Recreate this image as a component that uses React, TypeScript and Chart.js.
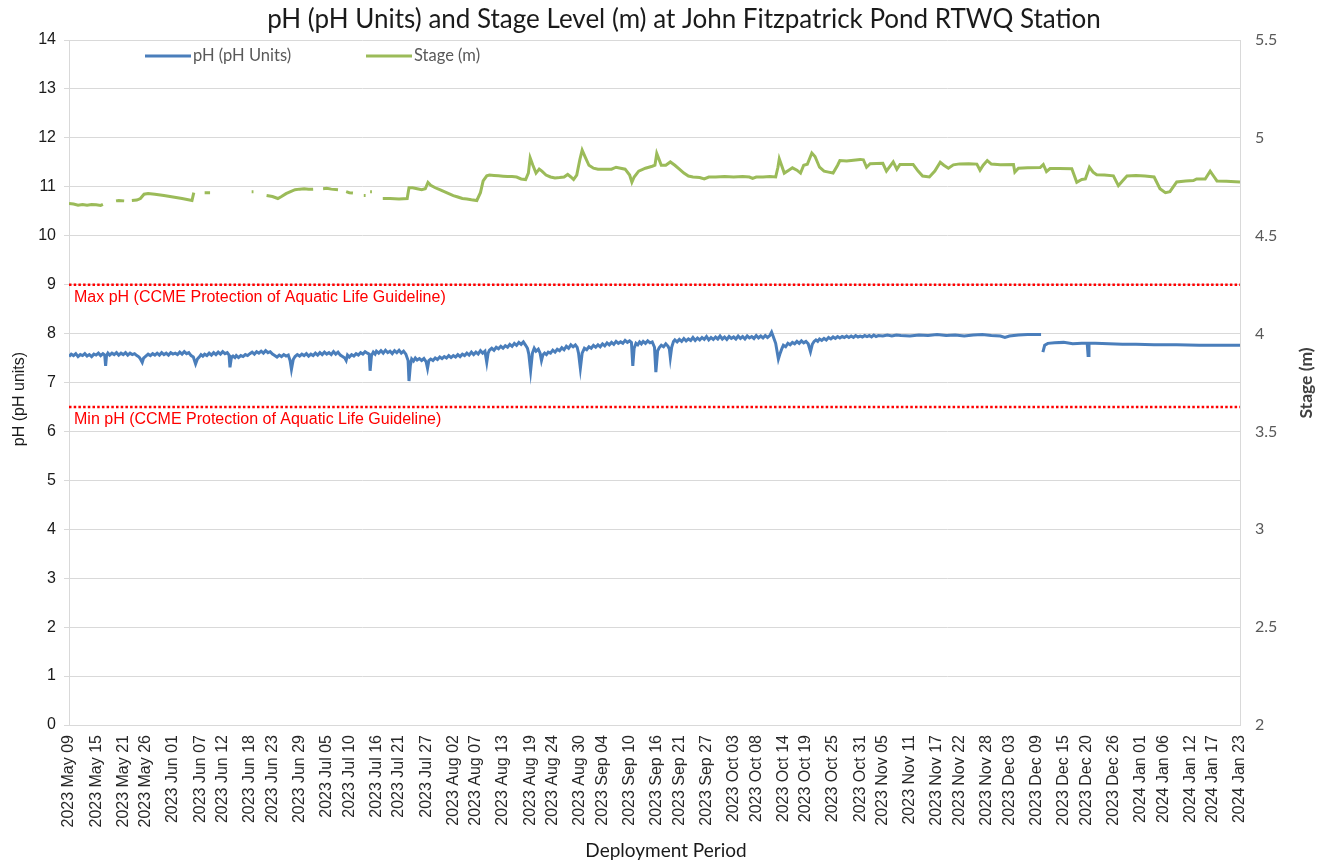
import React, { useEffect, useRef } from "react";
import { Chart, registerables } from "chart.js";

Chart.register(...registerables);

const chartTitle = "pH (pH Units) and Stage Level (m) at John Fitzpatrick Pond RTWQ Station";
const phLabel = "pH (pH Units)";
const stageLabel = "Stage (m)";
const leftAxisTitle = "pH (pH units)";
const rightAxisTitle = "Stage (m)";
const xAxisTitle = "Deployment Period";
const maxGuideLabel = "Max pH (CCME Protection of Aquatic Life Guideline)";
const minGuideLabel = "Min pH (CCME Protection of Aquatic Life Guideline)";
const maxPh = 9;
const minPh = 6.5;

const xTickLabels = [
  "2023 May 09", "2023 May 15", "2023 May 21", "2023 May 26", "2023 Jun 01", "2023 Jun 07",
  "2023 Jun 12", "2023 Jun 18", "2023 Jun 23", "2023 Jun 29", "2023 Jul 05", "2023 Jul 10",
  "2023 Jul 16", "2023 Jul 21", "2023 Jul 27", "2023 Aug 02", "2023 Aug 07", "2023 Aug 13",
  "2023 Aug 19", "2023 Aug 24", "2023 Aug 30", "2023 Sep 04", "2023 Sep 10", "2023 Sep 16",
  "2023 Sep 21", "2023 Sep 27", "2023 Oct 03", "2023 Oct 08", "2023 Oct 14", "2023 Oct 19",
  "2023 Oct 25", "2023 Oct 31", "2023 Nov 05", "2023 Nov 11", "2023 Nov 17", "2023 Nov 22",
  "2023 Nov 28", "2023 Dec 03", "2023 Dec 09", "2023 Dec 15", "2023 Dec 20", "2023 Dec 26",
  "2024 Jan 01", "2024 Jan 06", "2024 Jan 12", "2024 Jan 17", "2024 Jan 23",
];

// [days since 2023 May 09, pH]
const phReadings: [number, number | null][] = [
  [0, 7.53], [0.5, 7.58], [1, 7.55], [1.5, 7.59], [2, 7.53], [2.5, 7.57], [3, 7.55], [3.5, 7.59], [4, 7.54], [4.5, 7.57],
  [5, 7.53], [5.5, 7.58], [6, 7.56], [6.5, 7.6], [7, 7.55], [7.5, 7.59], [7.9, 7.56], [8.1, 7.34], [8.3, 7.55], [8.6, 7.6], [9, 7.56], [9.5, 7.6],
  [10, 7.57], [10.5, 7.61], [11, 7.56], [11.5, 7.6], [12, 7.57], [12.5, 7.61], [13, 7.56], [13.5, 7.6], [14, 7.57], [14.5, 7.59],
  [15, 7.55], [15.5, 7.52], [15.8, 7.48], [16.2, 7.41], [16.5, 7.5], [17, 7.54], [17.5, 7.58], [18, 7.55], [18.5, 7.59], [19, 7.56], [19.5, 7.6],
  [20, 7.56], [20.5, 7.61], [21, 7.57], [21.5, 7.6], [22, 7.56], [22.5, 7.61], [23, 7.58], [23.5, 7.6], [24, 7.57], [24.5, 7.62], [25, 7.58], [25.5, 7.63], [26, 7.59], [26.5, 7.61],
  [27, 7.55], [27.5, 7.52], [28, 7.38], [28.4, 7.48], [28.8, 7.52], [29.2, 7.57], [29.6, 7.54], [30, 7.58], [30.5, 7.55],
  [31, 7.6], [31.5, 7.56], [32, 7.61], [32.5, 7.57], [33, 7.62], [33.5, 7.58], [34, 7.63], [34.5, 7.59], [35, 7.61], [35.4, 7.56], [35.6, 7.31], [35.9, 7.5],
  [36.3, 7.54], [36.7, 7.51], [37, 7.55], [37.5, 7.51], [38, 7.55], [38.5, 7.53], [39, 7.57], [39.5, 7.55], [40, 7.59], [40.5, 7.62],
  [41, 7.58], [41.5, 7.63], [42, 7.6], [42.5, 7.64], [43, 7.6], [43.5, 7.65], [44, 7.61], [44.5, 7.63], [45, 7.58], [45.5, 7.55],
  [46, 7.52], [46.5, 7.56], [47, 7.53], [47.5, 7.57], [48, 7.54], [48.5, 7.56], [48.9, 7.45], [49.2, 7.27], [49.6, 7.47],
  [50, 7.53], [50.5, 7.57], [51, 7.54], [51.5, 7.58], [52, 7.55], [52.5, 7.59], [53, 7.54], [53.5, 7.58], [54, 7.55], [54.5, 7.6],
  [55, 7.56], [55.5, 7.61], [56, 7.57], [56.5, 7.62], [57, 7.58], [57.5, 7.61], [58, 7.57], [58.5, 7.63], [59, 7.58], [59.5, 7.62], [60, 7.56], [60.5, 7.53],
  [61, 7.5], [61.3, 7.45], [61.6, 7.56], [62, 7.52], [62.5, 7.57], [63, 7.54], [63.5, 7.59], [64, 7.56], [64.5, 7.61], [65, 7.58], [65.5, 7.63], [66, 7.6], [66.4, 7.58], [66.6, 7.24], [66.9, 7.55],
  [67.3, 7.62], [67.7, 7.58], [68, 7.64], [68.5, 7.6], [69, 7.65], [69.5, 7.6], [70, 7.66], [70.5, 7.61], [71, 7.64], [71.5, 7.59], [72, 7.65], [72.5, 7.61], [73, 7.66], [73.5, 7.6], [74, 7.64], [74.5, 7.58], [75, 7.45], [75.2, 7.03], [75.5, 7.35],
  [75.8, 7.48], [76.2, 7.44], [76.6, 7.5], [77, 7.46], [77.5, 7.49], [78, 7.45], [78.5, 7.49], [79, 7.42], [79.3, 7.29], [79.6, 7.45],
  [80, 7.48], [80.5, 7.45], [81, 7.5], [81.5, 7.47], [82, 7.52], [82.5, 7.49], [83, 7.53], [83.5, 7.5], [84, 7.55], [84.5, 7.51], [85, 7.55], [85.5, 7.52], [86, 7.57], [86.5, 7.53],
  [87, 7.58], [87.5, 7.55], [88, 7.6], [88.5, 7.56], [89, 7.62], [89.5, 7.57], [90, 7.62], [90.5, 7.58], [91, 7.65], [91.5, 7.6], [92, 7.64], [92.4, 7.41], [92.7, 7.6],
  [93, 7.66], [93.5, 7.7], [94, 7.66], [94.5, 7.72], [95, 7.69], [95.5, 7.74], [96, 7.7], [96.5, 7.75], [97, 7.72], [97.5, 7.78], [98, 7.74], [98.5, 7.8], [99, 7.76], [99.5, 7.82],
  [100, 7.78], [100.5, 7.83], [101, 7.76], [101.4, 7.7], [101.7, 7.58], [102.1, 7.24], [102.5, 7.6], [102.9, 7.7], [103.3, 7.64], [103.8, 7.68], [104.2, 7.6], [104.5, 7.45], [104.8, 7.56],
  [105.2, 7.6], [105.6, 7.57], [106, 7.62], [106.5, 7.6], [107, 7.66], [107.5, 7.62], [108, 7.68], [108.5, 7.65], [109, 7.71], [109.5, 7.67], [110, 7.74], [110.5, 7.7],
  [111, 7.77], [111.5, 7.73], [112, 7.77], [112.4, 7.72], [112.7, 7.6], [113.1, 7.29], [113.5, 7.6],
  [114, 7.7], [114.5, 7.67], [115, 7.73], [115.5, 7.7], [116, 7.76], [116.5, 7.72], [117, 7.77], [117.5, 7.73], [118, 7.79], [118.5, 7.75], [119, 7.81], [119.5, 7.77],
  [120, 7.82], [120.5, 7.78], [121, 7.84], [121.5, 7.8], [122, 7.83], [122.5, 7.8], [123, 7.86], [123.5, 7.82], [124, 7.85], [124.4, 7.82], [124.7, 7.34], [125, 7.7],
  [125.4, 7.8], [125.8, 7.77], [126.2, 7.83], [126.6, 7.79], [127, 7.84], [127.5, 7.8], [128, 7.85], [128.5, 7.81], [129, 7.83], [129.5, 7.72], [129.8, 7.21], [130.2, 7.65],
  [130.6, 7.72], [131, 7.76], [131.5, 7.73], [132, 7.79], [132.5, 7.74], [132.8, 7.68], [133, 7.51], [133.3, 7.72],
  [133.7, 7.84], [134, 7.87], [134.5, 7.83], [135, 7.88], [135.5, 7.84], [136, 7.9], [136.5, 7.85], [137, 7.89], [137.5, 7.86], [138, 7.92], [138.5, 7.86], [139, 7.91],
  [139.5, 7.87], [140, 7.92], [140.5, 7.88], [141, 7.94], [141.5, 7.87], [142, 7.92], [142.5, 7.88], [143, 7.93], [143.5, 7.89], [144, 7.95], [144.5, 7.89], [145, 7.93],
  [145.5, 7.88], [146, 7.94], [146.5, 7.9], [147, 7.93], [147.5, 7.89], [148, 7.95], [148.5, 7.9], [149, 7.94], [149.5, 7.89], [150, 7.95], [150.5, 7.91], [151, 7.94],
  [151.5, 7.9], [152, 7.96], [152.5, 7.91], [153, 7.95], [153.5, 7.91], [154, 7.96], [154.5, 7.92], [155, 7.96], [155.4, 8.03], [155.8, 7.93],
  [156.3, 7.8], [156.9, 7.48], [157.3, 7.6], [157.7, 7.7], [158, 7.76], [158.5, 7.73], [159, 7.8], [159.5, 7.77], [160, 7.82], [160.5, 7.79], [161, 7.84], [161.5, 7.8],
  [162, 7.85], [162.5, 7.81], [163, 7.84], [163.5, 7.79], [164, 7.63], [164.4, 7.78],
  [164.8, 7.84], [165.2, 7.87], [165.6, 7.84], [166, 7.89], [166.5, 7.86], [167, 7.9], [167.5, 7.87], [168, 7.92], [168.5, 7.89], [169, 7.93], [169.5, 7.9], [170, 7.94],
  [170.5, 7.91], [171, 7.94], [171.5, 7.92], [172, 7.95], [172.5, 7.92], [173, 7.95], [173.5, 7.92], [174, 7.96], [174.5, 7.93], [175, 7.95], [175.5, 7.93], [176, 7.96],
  [176.5, 7.94], [177, 7.96], [177.5, 7.93], [178, 7.97], [178.5, 7.94], [179, 7.96], [180, 7.95], [181, 7.97], [182, 7.95], [183, 7.97], [184, 7.96],
  [186, 7.95], [188, 7.97], [190, 7.96], [192, 7.98], [194, 7.96], [196, 7.97], [198, 7.95], [200, 7.97], [202, 7.98], [204, 7.96],
  [206, 7.95], [207, 7.92], [208, 7.95], [210, 7.97], [212, 7.98], [215, 7.98], [215.2, null], [215.4, 7.62], [215.8, 7.76], [216.5, 7.8],
  [218, 7.81], [220, 7.82], [222, 7.79], [224, 7.8], [225.2, 7.8], [225.4, 7.55], [225.6, 7.8], [227, 7.8], [230, 7.79], [233, 7.78],
  [236, 7.78], [240, 7.77], [245, 7.77], [250, 7.76], [255, 7.76], [259, 7.76],
];

// [days since 2023 May 09, stage m] ; null = missing data
const stageReadings: [number, number | null][] = [
  [0, 4.665], [1, 4.662], [2, 4.656], [3, 4.66], [4, 4.656], [5, 4.66], [6, 4.658], [7, 4.655], [7.5, 4.66], [8.5, null],
  [10.4, 4.678], [11, 4.68], [12.2, 4.678], [13, null],
  [13.9, 4.68], [15, 4.682], [15.8, 4.69], [16.6, 4.712], [17.5, 4.716], [19, 4.712], [21, 4.705], [23, 4.698], [25, 4.69], [27.2, 4.68], [27.6, 4.72], [28.5, null],
  [30, 4.72], [31.2, 4.72], [32, null],
  [40.4, 4.725], [40.8, 4.725], [41.5, null],
  [43.7, 4.705], [45, 4.7], [46.2, 4.69], [47, 4.7], [48, 4.715], [49, 4.725], [50, 4.735], [51, 4.738], [52, 4.74], [53, 4.737], [54, 4.738], [55, null],
  [56.2, 4.74], [57, 4.742], [58, 4.738], [59.5, 4.735], [60.3, null],
  [61.3, 4.725], [62, 4.72], [62.8, 4.718], [64, null],
  [65.2, 4.705], [65.6, 4.705], [66.1, null], [66.6, 4.725], [67, 4.725], [68, null],
  [69.4, 4.69], [71, 4.69], [73, 4.688], [74.8, 4.69], [75.2, 4.745], [76, 4.745], [77, 4.74], [78, 4.735], [78.8, 4.74], [79.4, 4.772],
  [80, 4.758], [81, 4.745], [82, 4.735], [83, 4.725], [84, 4.715], [85, 4.705], [86, 4.698], [87, 4.69], [88, 4.688], [89, 4.684],
  [90.2, 4.68], [91, 4.72], [91.6, 4.78], [92.4, 4.806], [93, 4.81], [94, 4.808], [95, 4.806], [96, 4.804], [97, 4.802], [98, 4.802],
  [99, 4.8], [100, 4.79], [101, 4.787], [101.6, 4.82], [102, 4.898], [102.6, 4.86], [103.3, 4.82], [104, 4.84], [104.6, 4.83], [105.5, 4.81],
  [106.5, 4.8], [107.5, 4.795], [108.5, 4.797], [109.5, 4.8], [110.3, 4.813], [111, 4.8], [111.6, 4.787], [112.3, 4.81], [113, 4.89], [113.5, 4.937],
  [114.2, 4.9], [115, 4.86], [116, 4.845], [117, 4.84], [118, 4.84], [119, 4.84], [120, 4.84], [121, 4.85], [122, 4.845], [123, 4.84],
  [124, 4.81], [124.5, 4.773], [125, 4.8], [126, 4.83], [127.5, 4.845], [129, 4.855], [129.6, 4.86], [130, 4.92], [130.5, 4.89], [131, 4.86],
  [132, 4.86], [133, 4.877], [134, 4.86], [135, 4.84], [136, 4.82], [137, 4.805], [138, 4.8], [139.5, 4.797], [140.5, 4.79], [141.5, 4.8],
  [143, 4.8], [145, 4.803], [147, 4.8], [149, 4.802], [150.5, 4.8], [151.2, 4.793], [152, 4.8], [153.5, 4.8], [155, 4.802], [156.3, 4.8],
  [156.8, 4.85], [157.1, 4.893], [157.6, 4.86], [158.2, 4.82], [159.2, 4.835], [160, 4.847], [161, 4.835], [161.8, 4.82], [162.5, 4.86], [163.3, 4.865],
  [164.3, 4.923], [165, 4.905], [166, 4.85], [167, 4.83], [168, 4.825], [169, 4.82], [170, 4.86], [170.5, 4.884], [172, 4.882], [173.5, 4.886],
  [175, 4.89], [175.7, 4.888], [176.4, 4.85], [177.2, 4.868], [180, 4.87], [180.8, 4.83], [182.3, 4.877], [183.1, 4.84], [183.8, 4.864], [186.7, 4.864],
  [187.8, 4.83], [188.8, 4.805], [190.3, 4.8], [191.5, 4.83], [192.7, 4.875], [193.5, 4.86], [194.5, 4.845], [195.6, 4.862], [197, 4.867], [199, 4.868],
  [200.8, 4.866], [201.5, 4.835], [202.2, 4.86], [203.1, 4.884], [204, 4.866], [206, 4.862], [208.9, 4.864], [209.2, 4.825], [210, 4.845], [212, 4.847],
  [214.8, 4.848], [215.5, 4.864], [216.2, 4.828], [217, 4.843], [219, 4.843], [221.8, 4.842], [222.9, 4.773], [224, 4.787], [224.8, 4.79], [225.7, 4.85],
  [226.5, 4.825], [227.3, 4.812], [229, 4.81], [231, 4.806], [232.1, 4.756], [233, 4.78], [234, 4.805], [236, 4.808], [238, 4.805], [240, 4.8],
  [241.3, 4.74], [242.5, 4.72], [243.5, 4.725], [245, 4.775], [247, 4.78], [248.7, 4.782], [249.4, 4.79], [251.3, 4.79], [252.4, 4.83], [253.3, 4.8],
  [253.9, 4.78], [256, 4.778], [259, 4.775],
];

const MONTHS: Record<string, number> = {
  Jan: 0, Feb: 1, Mar: 2, Apr: 3, May: 4, Jun: 5, Jul: 6, Aug: 7, Sep: 8, Oct: 9, Nov: 10, Dec: 11,
};
function dayOffset(label: string): number {
  const [y, m, d] = label.split(" ");
  const t = Date.UTC(Number(y), MONTHS[m], Number(d));
  const [y0, m0, d0] = xTickLabels[0].split(" ");
  const t0 = Date.UTC(Number(y0), MONTHS[m0], Number(d0));
  return Math.round((t - t0) / 86400000);
}
const tickDays = xTickLabels.map(dayOffset);

const ARIAL = '"Liberation Sans", Arial, sans-serif';
const CALIBRI = 'Lato, "Open Sans", sans-serif';

const decorPlugin = {
  id: "decor",
  afterDraw(chart: any) {
    const { ctx, chartArea, scales } = chart;
    ctx.save();
    // title
    ctx.fillStyle = "#1a1a1a";
    ctx.font = `26px ${CALIBRI}`;
    ctx.textAlign = "center";
    ctx.textBaseline = "middle";
    ctx.fillText(chartTitle, 684, 20);

    // legend
    ctx.lineWidth = 3;
    ctx.lineCap = "butt";
    ctx.strokeStyle = "#4a7ebb";
    ctx.beginPath();
    ctx.moveTo(145, 56);
    ctx.lineTo(191, 56);
    ctx.stroke();
    ctx.strokeStyle = "#9bbb59";
    ctx.beginPath();
    ctx.moveTo(366, 56);
    ctx.lineTo(412, 56);
    ctx.stroke();
    ctx.fillStyle = "#595959";
    ctx.font = `16.5px ${CALIBRI}`;
    ctx.textAlign = "left";
    ctx.fillText(phLabel, 193, 56);
    ctx.fillText(stageLabel, 414, 56);

    // guideline labels
    ctx.fillStyle = "#ff0000";
    ctx.font = `16px ${ARIAL}`;
    ctx.textAlign = "left";
    ctx.fillText(maxGuideLabel, chartArea.left + 5, scales.y.getPixelForValue(maxPh) + 13);
    ctx.fillText(minGuideLabel, chartArea.left + 5, scales.y.getPixelForValue(minPh) + 13);

    // left axis title
    ctx.save();
    ctx.translate(20, 399);
    ctx.rotate(-Math.PI / 2);
    ctx.fillStyle = "#1a1a1a";
    ctx.font = `16px ${ARIAL}`;
    ctx.textAlign = "center";
    ctx.fillText(leftAxisTitle, 0, 0);
    ctx.restore();

    // right axis title
    ctx.save();
    ctx.translate(1306, 383);
    ctx.rotate(-Math.PI / 2);
    ctx.fillStyle = "#404040";
    ctx.font = `bold 17.5px ${CALIBRI}`;
    ctx.textAlign = "center";
    ctx.fillText(rightAxisTitle, 0, 0);
    ctx.restore();

    // x axis title
    ctx.fillStyle = "#1a1a1a";
    ctx.font = `19px ${CALIBRI}`;
    ctx.textAlign = "center";
    ctx.fillText(xAxisTitle, 666, 851);
    ctx.restore();
  },
};

export default function App() {
  const ref = useRef<HTMLCanvasElement | null>(null);
  useEffect(() => {
    if (!ref.current) return;
    const xMax = tickDays[tickDays.length - 1];
    const chart = new Chart(ref.current, {
      type: "line",
      data: {
        datasets: [
          {
            label: phLabel,
            data: phReadings.map(([x, y]) => ({ x, y })),
            yAxisID: "y",
            borderColor: "#4a7ebb",
            borderWidth: 3,
            pointRadius: 0,
            tension: 0,
            spanGaps: false,
          },
          {
            label: stageLabel,
            data: stageReadings.map(([x, y]) => ({ x, y })),
            yAxisID: "y1",
            borderColor: "#9bbb59",
            borderWidth: 3,
            pointRadius: 0,
            tension: 0,
            spanGaps: false,
          },
          {
            label: "max",
            data: [{ x: 0, y: maxPh }, { x: xMax, y: maxPh }],
            yAxisID: "y",
            borderColor: "#ff0000",
            borderWidth: 2.5,
            borderDash: [2.5, 2.2],
            pointRadius: 0,
          },
          {
            label: "min",
            data: [{ x: 0, y: minPh }, { x: xMax, y: minPh }],
            yAxisID: "y",
            borderColor: "#ff0000",
            borderWidth: 2.5,
            borderDash: [2.5, 2.2],
            pointRadius: 0,
          },
        ],
      },
      options: {
        responsive: false,
        animation: false,
        devicePixelRatio: 1,
        layout: { padding: { top: 40, left: 0, right: 0, bottom: 0 } },
        plugins: {
          legend: { display: false },
          title: { display: false },
          tooltip: { enabled: false },
        },
        scales: {
          x: {
            type: "linear",
            min: 0,
            max: xMax,
            afterFit: (s: any) => {
              s.height = 138;
            },
            afterBuildTicks: (s: any) => {
              s.ticks = tickDays.map((v) => ({ value: v }));
            },
            grid: { display: false, drawTicks: false },
            border: { display: true, color: "#d9d9d9" },
            ticks: {
              autoSkip: false,
              minRotation: 90,
              maxRotation: 90,
              padding: 10,
              color: "#262626",
              font: { family: ARIAL, size: 16 },
              callback: (_v: any, i: number) => xTickLabels[i],
            },
          },
          y: {
            position: "left",
            min: 0,
            max: 14,
            afterFit: (s: any) => {
              s.width = 69;
            },
            grid: { color: "#d9d9d9", tickLength: 5 },
            border: { display: true, color: "#d9d9d9" },
            ticks: {
              stepSize: 1,
              padding: 8,
              color: "#1a1a1a",
              font: { family: ARIAL, size: 16 },
            },
          },
          y1: {
            position: "right",
            min: 2,
            max: 5.5,
            afterFit: (s: any) => {
              s.width = 82;
            },
            grid: { display: false, drawTicks: false },
            border: { display: true, color: "#d9d9d9" },
            ticks: {
              stepSize: 0.5,
              padding: 15,
              color: "#595959",
              font: { family: CALIBRI, size: 16 },
              callback: (v: any) => String(v),
            },
          },
        },
      },
      plugins: [decorPlugin],
    });
    return () => chart.destroy();
  }, []);

  return (
    <div style={{ position: "fixed", left: 0, top: 0, width: 1322, height: 863, background: "#fff" }}>
      <canvas ref={ref} width={1322} height={863} style={{ display: "block" }} />
    </div>
  );
}
